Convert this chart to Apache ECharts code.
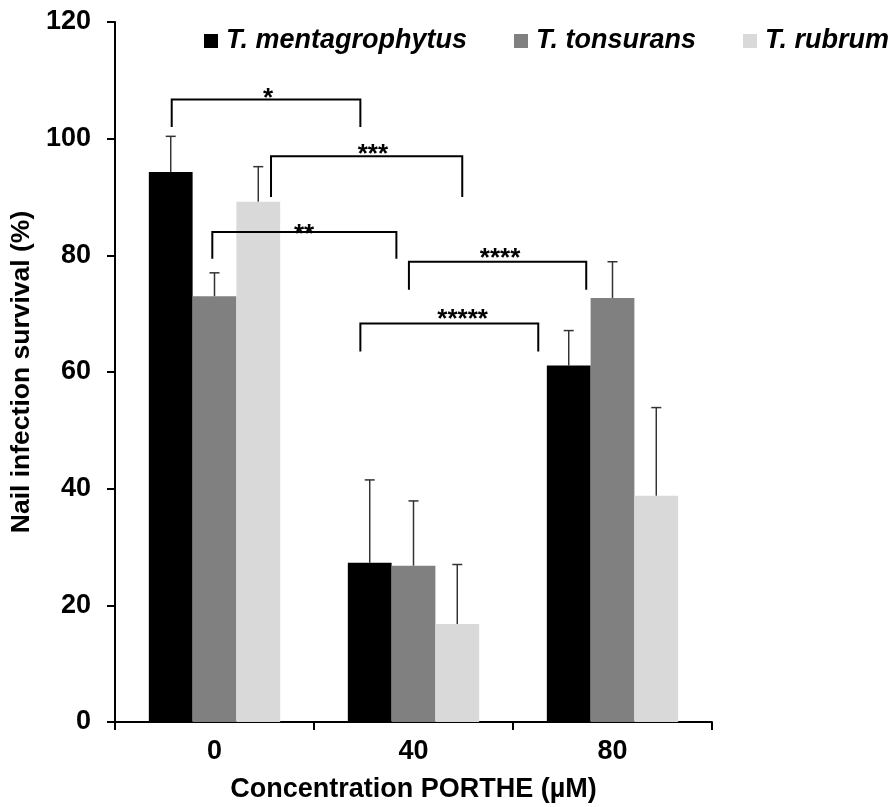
<!DOCTYPE html>
<html><head><meta charset="utf-8">
<script src="https://cdn.jsdelivr.net/npm/echarts@6/dist/echarts.min.js"></script>
<style>html,body{margin:0;padding:0;background:#fff}#c{width:892px;height:807px}</style>
</head><body><div id="c"></div>
<script>
// ---- data ----
const categories = ['0', '40', '80'];
const seriesNames = ['T. mentagrophytus', 'T. tonsurans', 'T. rubrum'];
const mentagrophytus = [94.3, 27.3, 61.1];
const tonsurans = [73.0, 26.8, 72.7];
const rubrum = [89.2, 16.8, 38.8];
const mentagrophytusErr = [6.1, 14.2, 6.0];
const tonsuransErr = [4.0, 11.1, 6.2];
const rubrumErr = [6.0, 10.2, 15.1];
const yMin = 0, yMax = 120, yStep = 20;
// significance brackets (x in category units, y in %)
const bracketLabels = ['*', '***', '**', '****', '*****'];
const bracketX1 = [-0.215, 0.284, -0.011, 0.977, 0.733];
const bracketX2 = [0.733, 1.245, 0.914, 1.868, 1.627];
const bracketTop = [106.7, 97.0, 84.0, 78.9, 68.3];
const bracketEnd = [102.0, 90.0, 79.4, 74.1, 63.5];
const bracketLabelX = [0.269, 0.796, 0.450, 1.435, 1.247];
const bracketLabelY = [107.8, 98.2, 84.6, 80.5, 69.9];

// ---- chart ----
const FONT = '"Liberation Sans", Arial, sans-serif';
const colors = ['#000000', '#808080', '#d9d9d9'];
const values = [mentagrophytus, tonsurans, rubrum];
const errs = [mentagrophytusErr, tonsuransErr, rubrumErr];

function errRender(offsetIdx) {
  return function (params, api) {
    const x = api.value(0), v = api.value(1), e = api.value(2);
    const base = api.coord([x, v]);
    const top = api.coord([x, v + e]);
    const band = api.size([1, 0])[0];
    const cx = base[0] + offsetIdx * band * 0.22;
    const half = 5;
    const st = { stroke: '#333333', lineWidth: 1.5 };
    return {
      type: 'group', children: [
        { type: 'line', shape: { x1: cx, y1: base[1], x2: cx, y2: top[1] }, style: st },
        { type: 'line', shape: { x1: cx - half, y1: top[1], x2: cx + half, y2: top[1] }, style: st }
      ]
    };
  };
}

function bracketRender(params, api) {
  const x1 = api.value(0), x2 = api.value(1), top = api.value(2), end = api.value(3);
  const lx = api.value(4), ly = api.value(5), li = api.value(6);
  const p1 = api.coord([x1, end]), p2 = api.coord([x1, top]);
  const p3 = api.coord([x2, top]), p4 = api.coord([x2, end]);
  const lp = api.coord([lx, ly]);
  return {
    type: 'group', children: [
      { type: 'polyline', shape: { points: [p1, p2, p3, p4] }, style: { stroke: '#000', lineWidth: 2, fill: null } },
      { type: 'text', style: { text: bracketLabels[li], x: lp[0], y: lp[1] + 6, align: 'center', verticalAlign: 'middle', font: 'bold 26px ' + FONT, fill: '#000' } }
    ]
  };
}

const series = [];
values.forEach((vals, i) => {
  series.push({
    name: seriesNames[i], type: 'bar', data: vals, barWidth: '22%', barGap: '0%',
    itemStyle: { color: colors[i] }, xAxisIndex: 0, yAxisIndex: 0, z: 2
  });
});
values.forEach((vals, i) => {
  series.push({
    type: 'custom', xAxisIndex: 0, yAxisIndex: 0, z: 5, silent: true,
    renderItem: errRender(i - 1),
    data: vals.map((v, k) => [k, v, errs[i][k]])
  });
});
series.push({
  type: 'custom', xAxisIndex: 1, yAxisIndex: 0, z: 6, silent: true,
  renderItem: bracketRender,
  encode: { x: [0, 1], y: [2, 3] },
  data: bracketLabels.map((l, k) => [bracketX1[k], bracketX2[k], bracketTop[k], bracketEnd[k], bracketLabelX[k], bracketLabelY[k], k])
});

const chart = echarts.init(document.getElementById('c'), null, { renderer: 'canvas' });
chart.setOption({
  animation: false,
  backgroundColor: '#fff',
  textStyle: { fontFamily: FONT },
  grid: { left: 115, right: 180, top: 22, bottom: 85, containLabel: false, outerBoundsMode: 'none' },
  legend: {
    data: seriesNames, left: 204, top: 27, width: 760, padding: 0, icon: 'rect', itemWidth: 14, itemHeight: 14, itemGap: 47,
    textStyle: { fontFamily: FONT, fontSize: 27, fontWeight: 'bold', fontStyle: 'italic', color: '#000', lineHeight: 28, padding: [0, 0, 0, 3] }
  },
  xAxis: [{
    type: 'category', data: categories, boundaryGap: true,
    axisLine: { onZero: false, lineStyle: { color: '#000', width: 2 } },
    axisTick: { show: true, length: 8, lineStyle: { color: '#000', width: 2 }, alignWithLabel: false },
    axisLabel: { fontSize: 27, fontWeight: 'bold', color: '#000', margin: 16, fontFamily: FONT },
    name: 'Concentration PORTHE (µM)', nameLocation: 'middle', nameGap: 54,
    nameTextStyle: { fontSize: 27, fontWeight: 'bold', color: '#000', fontFamily: FONT },
    splitLine: { show: false }
  }, {
    type: 'value', min: -0.5, max: 2.5, show: false, position: 'bottom'
  }],
  yAxis: [{
    type: 'value', min: yMin, max: yMax, interval: yStep,
    axisLine: { show: true, onZero: false, lineStyle: { color: '#000', width: 2 } },
    axisTick: { show: true, length: 8, lineStyle: { color: '#000', width: 2 } },
    axisLabel: { fontSize: 27, fontWeight: 'bold', color: '#000', margin: 24, fontFamily: FONT },
    splitLine: { show: false },
    name: 'Nail infection survival (%)', nameLocation: 'middle', nameGap: 77, nameRotate: 90,
    nameTextStyle: { fontSize: 26.5, fontWeight: 'bold', color: '#000', fontFamily: FONT }
  }],
  series: series
});
</script>
</body></html>
